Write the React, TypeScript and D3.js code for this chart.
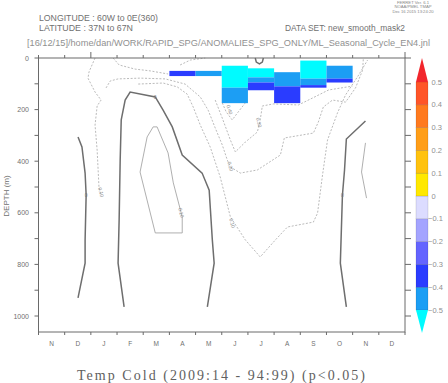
import React from "react";
import * as d3 from "d3";

// ---------- DATA ----------
const monthLabels = ["N", "D", "J", "F", "M", "A", "M", "J", "J", "A", "S", "O", "N", "D"];
const depthTicks = [0, 200, 400, 600, 800, 1000];
const depthMinorTicks = [0, 100, 200, 300, 400, 500, 600, 700, 800, 900, 1000];
const colorLevels = [-0.5, -0.4, -0.3, -0.2, -0.1, 0, 0.1, 0.2, 0.3, 0.4, 0.5];
const colorLabels = ["−0.5", "−0.4", "−0.3", "−0.2", "−0.1", "0", "0.1", "0.2", "0.3", "0.4", "0.5"];
const palette = ["#00fbff", "#1c9ef4", "#2a3cff", "#6464ff", "#a4a4ff", "#dcdcff", "#ffe800", "#ffc20e", "#ff9e18", "#ff7a1e", "#ff5528", "#f2262c"];

// significant cells: month index (0 = Nov of previous year), depth top, depth bottom, value
const cellMonth = [5, 6, 7, 7, 8, 8, 8, 9, 9, 10, 10, 10, 11, 11];
const cellTop = [50, 50, 30, 115, 40, 75, 95, 55, 110, 10, 80, 105, 30, 80];
const cellBottom = [70, 70, 115, 175, 75, 95, 125, 110, 175, 80, 105, 115, 80, 95];
const cellValue = [-0.35, -0.45, -0.55, -0.45, -0.55, -0.45, -0.35, -0.45, -0.35, -0.55, -0.45, -0.35, -0.45, -0.35];

// zero contours [month, depth]
const zeroContours: [number, number][][] = [
  [[1.51, 306], [1.66, 345], [1.78, 446], [1.82, 531], [1.78, 705], [1.78, 795], [1.51, 930]],
  [[3.27, 965], [3.04, 795], [3.08, 628], [3.12, 395], [3.16, 240], [3.31, 163], [3.5, 132], [4.46, 151], [4.76, 202], [5.11, 267], [5.49, 376], [6.25, 446], [6.52, 512], [6.64, 705], [6.71, 795], [6.45, 965]],
  [[12.49, 244], [11.76, 314], [11.69, 434], [11.61, 531], [11.53, 795], [11.76, 965]],
  [[8.28, 0], [8.32, 16], [8.44, 23], [8.55, 16], [8.59, 0]],
];
const zeroLabels: [number, number][] = [[1.82, 531], [4.46, 151], [11.61, 531]];

// +0.10 contours
const posContours: [number, number][][] = [
  [[5.49, 616], [5.49, 678], [4.46, 678], [3.88, 442], [4.15, 306], [4.38, 267], [4.53, 267], [4.95, 368], [5.15, 484], [5.49, 616]],
  [[12.49, 329], [12.34, 442], [12.53, 543]],
];
const posLabels: [number, number, string][] = [[5.45, 600, "0.10"]];

// negative contours (dashed)
const negContours: [number, number][][] = [
  [[2.16, 0], [1.93, 54], [1.89, 78], [2.16, 132], [2.39, 163], [2.24, 186], [2.16, 260], [2.24, 357], [2.31, 500], [2.39, 531]],
  [[2.85, 0], [3.08, 27], [3.69, 43], [4.27, 50], [4.95, 62]],
  [[2.58, 116], [2.74, 89], [3.04, 81], [3.88, 78], [4.84, 81], [5.6, 101], [6.18, 151], [6.48, 202], [6.75, 271], [7.02, 337], [7.21, 395], [7.33, 422], [7.71, 446], [8.36, 434], [9.24, 376], [9.39, 310], [10.5, 291], [10.69, 248], [10.88, 190], [11.23, 163], [11.73, 171], [12.11, 116], [12.38, 47], [12.41, 0]],
  [[3.81, 101], [4.76, 97], [5.3, 112], [5.68, 140], [5.91, 190], [6.18, 260], [6.56, 345], [6.94, 461], [7.33, 616], [7.9, 705], [8.47, 771], [9.05, 705], [9.51, 655], [10.5, 636], [10.66, 601], [10.85, 453], [11.04, 318], [11.42, 213], [11.73, 143], [12.23, 66], [12.57, 8]],
  [[6.75, 163], [7.02, 233], [7.33, 318], [7.52, 364], [7.9, 326], [8.36, 287], [8.47, 240], [8.55, 186], [8.97, 178], [9.93, 182], [10.47, 155], [11.08, 124], [11.99, 109]],
  [[7.02, 174], [7.17, 209], [7.4, 240], [7.63, 209], [7.9, 174]],
  [[5.41, 27], [5.8, 8], [6.37, 0]],
];
const negLabels: [number, number, string][] = [
  [2.39, 520, "0.10"],
  [7.33, 420, "0.20"],
  [7.4, 640, "0.10"],
  [8.42, 250, "0.30"],
  [7.3, 200, "0.40"],
];

// ---------- LAYOUT ----------
const W = 448;
const H = 383;
const L = 38.5, R = 405, T = 58, B = 332;

export default function App() {
  const x = d3.scaleLinear().domain([0, 14]).range([L, R]);
  const y = d3.scaleLinear().domain([0, 1062]).range([T, B]);
  const color = d3.scaleThreshold<number, string>().domain(colorLevels).range(palette);
  const line = d3.line<[number, number]>().x((p) => x(p[0])).y((p) => y(p[1]));

  const cb = d3.scaleLinear().domain([-0.5, 0.5]).range([310, 82]);
  const cbL = 416, cbR = 428;
  const gray = "#6a6a6a";

  const monthBounds = d3.range(0, 15);

  return (
    <svg width={W} height={H} style={{ position: "absolute", left: 0, top: 0, background: "#fff" }}
      fontFamily="'Liberation Sans', Arial, sans-serif">
      {/* header */}
      <g fill="#888" fontSize={4.2} textAnchor="middle">
        <text x={413} y={3.5}>FERRET Ver. 6.1</text>
        <text x={413} y={8}>NOAA/PMEL TMAP</text>
        <text x={413} y={12.5}>Dec 16 2015 13:24:20</text>
      </g>
      <g fill="#707070" fontSize={8.5}>
        <text x={39} y={21} textLength={119} lengthAdjust="spacingAndGlyphs">LONGITUDE : 60W to 0E(360)</text>
        <text x={39} y={31} textLength={94} lengthAdjust="spacingAndGlyphs">LATITUDE : 37N to 67N</text>
        <text x={285} y={31} textLength={120} lengthAdjust="spacingAndGlyphs">DATA SET: new_smooth_mask2</text>
        <text x={27} y={45.5} fill="#909090" textLength={403} lengthAdjust="spacingAndGlyphs">[16/12/15]/home/dan/WORK/RAPID_SPG/ANOMALIES_SPG_ONLY/ML_Seasonal_Cycle_EN4.jnl</text>
      </g>

      {/* cells */}
      <g>
        {cellMonth.map((m, i) => (
          <rect key={i} x={x(m)} y={y(cellTop[i])} width={x(m + 1) - x(m)} height={y(cellBottom[i]) - y(cellTop[i])}
            fill={color(cellValue[i])} />
        ))}
      </g>

      {/* contours */}
      <g fill="none">
        {negContours.map((c, i) => (
          <path key={"n" + i} d={line(c) || ""} stroke="#a8a8a8" strokeWidth={0.8} strokeDasharray="2,1.6" />
        ))}
        {posContours.map((c, i) => (
          <path key={"p" + i} d={line(c) || ""} stroke="#9a9a9a" strokeWidth={0.8} />
        ))}
        {zeroContours.map((c, i) => (
          <path key={"z" + i} d={line(c) || ""} stroke="#6e6e6e" strokeWidth={1.5} />
        ))}
      </g>
      <g fontSize={5} fill="#888">
        {zeroLabels.map((p, i) => (
          <text key={"zl" + i} x={x(p[0])} y={y(p[1]) + 1.8} textAnchor="middle" fill="#777">0</text>
        ))}
        {posLabels.concat(negLabels).map((p, i) => (
          <text key={"l" + i} transform={`translate(${x(p[0])},${y(p[1])}) rotate(75)`} textAnchor="middle" dy={1.8}>{p[2]}</text>
        ))}
      </g>

      {/* axes */}
      <g stroke={gray} strokeWidth={1} fill="none">
        <rect x={L} y={T} width={R - L} height={B - T} />
        {monthBounds.map((m) => (
          <g key={"mt" + m}>
            <line x1={x(m)} x2={x(m)} y1={B} y2={B + 3} />
            <line x1={x(m)} x2={x(m)} y1={T} y2={m === 2 || m === 14 ? T - 6 : T - 3} />
          </g>
        ))}
        {depthMinorTicks.map((d) => (
          <g key={"dt" + d}>
            <line x1={L} x2={L - 4} y1={y(d)} y2={y(d)} />
            <line x1={R} x2={R + 6} y1={y(d)} y2={y(d)} />
          </g>
        ))}
      </g>
      <g fill="#707070" fontSize={7}>
        {depthTicks.map((d) => (
          <text key={"dl" + d} x={29} y={y(d) + 2.5} textAnchor="end">{d}</text>
        ))}
        {monthLabels.map((lab, i) => (
          <text key={"ml" + i} x={x(i + 0.5)} y={345.5} textAnchor="middle" fontSize={6.5}>{lab}</text>
        ))}
        <text transform={`translate(9,196) rotate(-90)`} textAnchor="middle" fontSize={8}>DEPTH (m)</text>
      </g>

      {/* colorbar */}
      <g>
        {colorLevels.slice(0, -1).map((v, i) => (
          <rect key={"cb" + i} x={cbL} y={cb(colorLevels[i + 1])} width={cbR - cbL} height={cb(v) - cb(colorLevels[i + 1])}
            fill={palette[i + 1]} stroke="rgba(0,0,0,0.18)" strokeWidth={0.6} />
        ))}
        <path d={`M${cbL},${cb(0.5)} L${(cbL + cbR) / 2},58 L${cbR},${cb(0.5)} Z`} fill={palette[11]} />
        <path d={`M${cbL},${cb(-0.5)} L${(cbL + cbR) / 2},333 L${cbR},${cb(-0.5)} Z`} fill={palette[0]} />
        <g fill="#909090" fontSize={7.5}>
          {colorLevels.map((v, i) => (
            <text key={"cl" + i} x={v < 0 ? 428 : 431.5} y={cb(v) + 2.5}>{colorLabels[i]}</text>
          ))}
        </g>
      </g>

      {/* title */}
      <text x={77} y={380} fontFamily="'Liberation Serif', 'DejaVu Serif', serif" fontSize={14} fill="#606060"
        textLength={288} lengthAdjust="spacing">Temp Cold (2009:14 - 94:99) (p&lt;0.05)</text>
    </svg>
  );
}
